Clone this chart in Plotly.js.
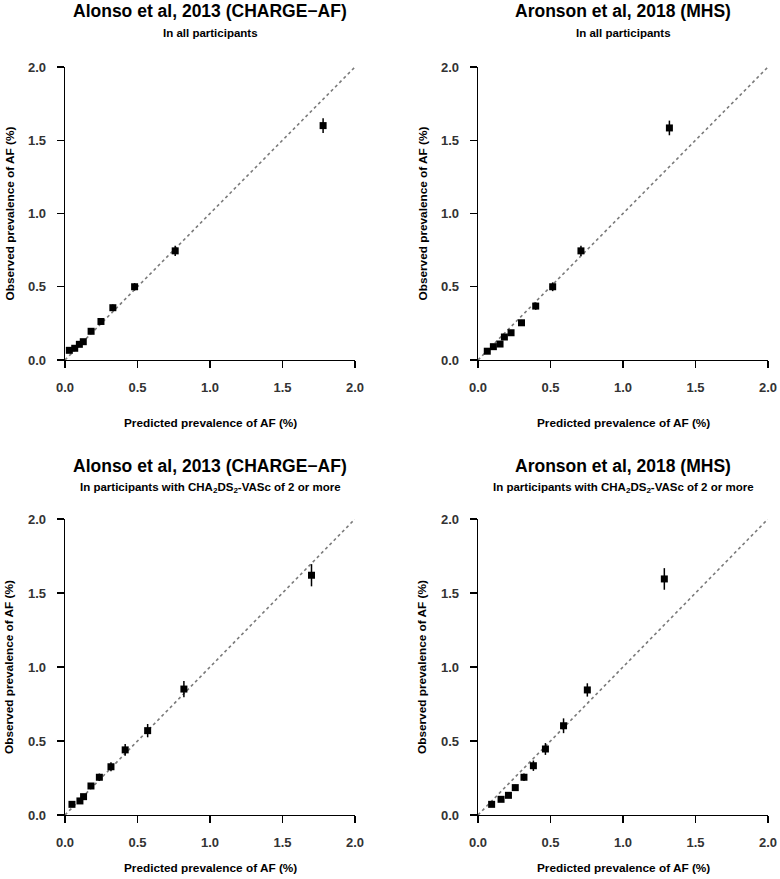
<!DOCTYPE html>
<html>
<head>
<meta charset="utf-8">
<script src="https://cdn.plot.ly/plotly-3.0.1.min.js"></script>
<style>html,body{margin:0;padding:0;background:#fff;}#chart{width:780px;height:879px;}</style>
</head>
<body>
<div id="chart"></div>
<script>
// ---- data ----
const tickValues = [0, 0.5, 1, 1.5, 2];
const tickLabels = ["0.0", "0.5", "1.0", "1.5", "2.0"];
const refLineX = [0, 2];
const refLineY = [0, 2];

const alonsoAllPred = [0.030, 0.067, 0.099, 0.126, 0.18, 0.248, 0.33, 0.48, 0.76, 1.78];
const alonsoAllObs  = [0.066, 0.080, 0.107, 0.125, 0.196, 0.263, 0.357, 0.50, 0.745, 1.60];
const alonsoAllErr  = [0.012, 0.012, 0.014, 0.015, 0.018, 0.020, 0.022, 0.025, 0.035, 0.05];

const aronsonAllPred = [0.064, 0.106, 0.152, 0.182, 0.228, 0.30, 0.398, 0.515, 0.71, 1.32];
const aronsonAllObs  = [0.060, 0.091, 0.109, 0.157, 0.186, 0.254, 0.368, 0.50, 0.745, 1.584];
const aronsonAllErr  = [0.012, 0.013, 0.014, 0.016, 0.018, 0.020, 0.025, 0.030, 0.035, 0.05];

const alonsoHiPred = [0.048, 0.103, 0.128, 0.179, 0.237, 0.317, 0.415, 0.57, 0.82, 1.70];
const alonsoHiObs  = [0.072, 0.095, 0.124, 0.196, 0.255, 0.326, 0.44, 0.57, 0.851, 1.62];
const alonsoHiErr  = [0.015, 0.017, 0.018, 0.020, 0.025, 0.030, 0.040, 0.045, 0.055, 0.075];

const aronsonHiPred = [0.094, 0.159, 0.21, 0.257, 0.317, 0.382, 0.465, 0.59, 0.754, 1.285];
const aronsonHiObs  = [0.072, 0.106, 0.133, 0.185, 0.255, 0.333, 0.446, 0.603, 0.845, 1.595];
const aronsonHiErr  = [0.015, 0.017, 0.018, 0.020, 0.025, 0.035, 0.040, 0.050, 0.045, 0.073];

const panelTitles = ["Alonso et al, 2013 (CHARGE\u2212AF)", "Aronson et al, 2018 (MHS)",
                     "Alonso et al, 2013 (CHARGE\u2212AF)", "Aronson et al, 2018 (MHS)"];
const panelSubtitles = ["In all participants", "In all participants",
                        "In participants with CHA<sub>2</sub>DS<sub>2</sub>-VASc of 2 or more",
                        "In participants with CHA<sub>2</sub>DS<sub>2</sub>-VASc of 2 or more"];
const xTitle = "Predicted prevalence of AF (%)";
const yTitle = "Observed prevalence of AF (%)";

// ---- layout helpers ----
const W = 780, H = 879;
const FONT = "Liberation Sans, Arial, Helvetica, sans-serif";
const px = x => x / W;
const py = y => 1 - y / H;

// panel geometry in pixels: [left, right, top, bottom, x-title offset below axis]
const panels = [
  [65, 355, 67, 360, 63],
  [478, 768, 67, 360, 63],
  [65, 355, 519, 815, 53],
  [478, 768, 519, 815, 53]
];

const series = [
  [alonsoAllPred, alonsoAllObs, alonsoAllErr],
  [aronsonAllPred, aronsonAllObs, aronsonAllErr],
  [alonsoHiPred, alonsoHiObs, alonsoHiErr],
  [aronsonHiPred, aronsonHiObs, aronsonHiErr]
];

const traces = [];
const layout = {
  width: W, height: H,
  margin: {l: 0, r: 0, t: 0, b: 0},
  paper_bgcolor: "#fff", plot_bgcolor: "#fff",
  showlegend: false,
  font: {family: FONT},
  annotations: []
};

panels.forEach((p, i) => {
  const n = i + 1;
  const xa = "x" + (n === 1 ? "" : n), ya = "y" + (n === 1 ? "" : n);
  const axBase = {
    range: [0, 2], showline: true, linecolor: "#000", linewidth: 1.3,
    ticks: "outside", ticklen: 7, tickwidth: 1.3, tickcolor: "#000",
    tickvals: tickValues, ticktext: tickLabels,
    showgrid: false, zeroline: false, fixedrange: true,
    tickfont: {family: FONT, size: 13, color: "#333", weight: "bold"}
  };
  layout["xaxis" + (n === 1 ? "" : n)] = Object.assign({}, axBase, {
    domain: [px(p[0]), px(p[1])], anchor: ya, ticklabelstandoff: 8
  });
  layout["yaxis" + (n === 1 ? "" : n)] = Object.assign({}, axBase, {
    domain: [py(p[3]), py(p[2])], anchor: xa, ticklabelstandoff: 8
  });

  traces.push({
    x: refLineX, y: refLineY, xaxis: xa, yaxis: ya, mode: "lines",
    line: {color: "#7a7a7a", width: 1.6, dash: "3px,3px"}, hoverinfo: "skip"
  });
  const s = series[i];
  traces.push({
    x: s[0], y: s[1], xaxis: xa, yaxis: ya, mode: "markers", type: "scatter",
    cliponaxis: false,
    marker: {symbol: "square", size: 7, color: "#000"},
    error_y: {type: "data", array: s[2], visible: true, color: "#000", thickness: 1.5, width: 0}
  });

  const cx = (p[0] + p[1]) / 2;
  const titleY = i < 2 ? 11 : 466;
  layout.annotations.push({
    xref: "paper", yref: "paper", x: px(cx), y: py(titleY), xanchor: "center", yanchor: "middle",
    text: "<b>" + panelTitles[i] + "</b>", showarrow: false,
    font: {family: FONT, size: 17.5, color: "#000"}
  });
  layout.annotations.push({
    xref: "paper", yref: "paper", x: px(cx), y: py(titleY + 22), xanchor: "center", yanchor: "middle",
    text: "<b>" + panelSubtitles[i] + "</b>", showarrow: false,
    font: {family: FONT, size: 11.5, color: "#000"}
  });
  layout.annotations.push({
    xref: "paper", yref: "paper", x: px(cx), y: py(p[3] + p[4]), xanchor: "center", yanchor: "middle",
    text: "<b>" + xTitle + "</b>", showarrow: false,
    font: {family: FONT, size: 11.8, color: "#000"}
  });
  layout.annotations.push({
    xref: "paper", yref: "paper", x: px(p[0] - 56), y: py((p[2] + p[3]) / 2), xanchor: "center", yanchor: "middle",
    text: "<b>" + yTitle + "</b>", showarrow: false, textangle: -90,
    font: {family: FONT, size: 11.8, color: "#000"}
  });
});

Plotly.newPlot("chart", traces, layout, {displayModeBar: false, staticPlot: true});
</script>
</body>
</html>
